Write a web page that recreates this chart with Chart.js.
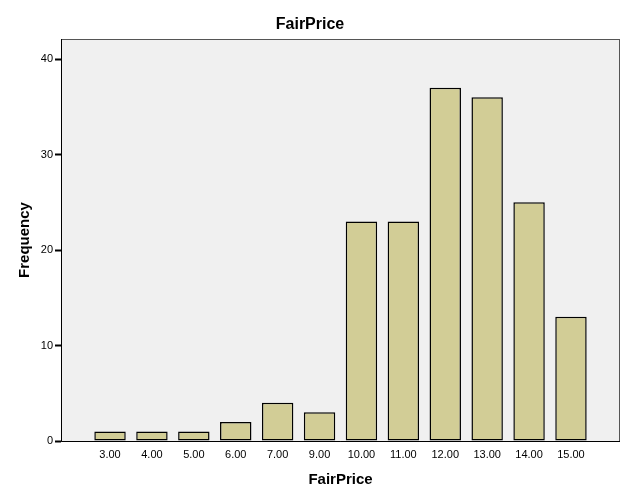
<!DOCTYPE html>
<html>
<head>
<meta charset="utf-8">
<script src="https://cdn.jsdelivr.net/npm/chart.js@4"></script>
<style>
  html, body { margin: 0; padding: 0; background: #ffffff; }
  #wrap { width: 629px; height: 504px; }
</style>
</head>
<body>
<div id="wrap"><canvas id="chart" width="629" height="504"></canvas></div>
<script>
// Data
const priceLabels = ['3.00', '4.00', '5.00', '6.00', '7.00', '9.00', '10.00', '11.00', '12.00', '13.00', '14.00', '15.00'];
const frequencies = [1, 1, 1, 2, 4, 3, 23, 23, 37, 36, 25, 13];
const yTicks = [0, 10, 20, 30, 40];

// Plot box: grey fill behind, border on top
const plotBox = {
    id: 'plotBox',
    beforeDraw(chart) {
        const { ctx, chartArea: a } = chart;
        ctx.save();
        ctx.fillStyle = '#f0f0f0';
        ctx.fillRect(a.left, a.top, a.right - a.left, a.bottom - a.top);
        ctx.restore();
    },
    afterDraw(chart) {
        const { ctx, chartArea: a } = chart;
        ctx.save();
        ctx.strokeStyle = '#555555';
        ctx.lineWidth = 1;
        ctx.strokeRect(a.left + 0.5, a.top + 0.5, a.right - a.left - 1, a.bottom - a.top);
        ctx.strokeStyle = '#000000';
        ctx.beginPath();
        ctx.moveTo(a.left + 0.5, a.top);
        ctx.lineTo(a.left + 0.5, a.bottom + 0.5);
        ctx.lineTo(a.right, a.bottom + 0.5);
        ctx.stroke();
        ctx.restore();
    }
};

const font = "'Liberation Sans', Arial, sans-serif";

new Chart(document.getElementById('chart'), {
    type: 'bar',
    data: {
        datasets: [{
            data: frequencies.map((v, i) => ({ x: i, y: v })),
            backgroundColor: '#d2cd96',
            borderColor: '#000000',
            borderWidth: 1.5,
            borderSkipped: false,
            barPercentage: 0.75,
            categoryPercentage: 1
        }]
    },
    options: {
        responsive: false,
        animation: false,
        layout: { padding: { left: 0, right: 9, top: 0, bottom: 0 } },
        plugins: {
            legend: { display: false },
            tooltip: { enabled: false },
            title: {
                display: true,
                text: 'FairPrice',
                color: '#000000',
                font: { family: font, size: 16, weight: 'bold' },
                padding: { top: 15.4, bottom: 4.4 }
            }
        },
        scales: {
            x: {
                type: 'linear',
                offset: false,
                min: -1.17,
                max: 12.17,
                afterBuildTicks: s => { s.ticks = priceLabels.map((_, i) => ({ value: i })); },
                afterFit: s => { s.height = 63; },
                ticks: {
                    color: '#000000',
                    font: { family: font, size: 11 },
                    padding: 7,
                    maxRotation: 0,
                    autoSkip: false,
                    callback: v => priceLabels[v]
                },
                grid: { display: false, drawTicks: false },
                border: { display: false },
                title: {
                    display: true,
                    text: 'FairPrice',
                    color: '#000000',
                    font: { family: font, size: 15, weight: 'bold' },
                    padding: { top: 0, bottom: 15 }
                }
            },
            y: {
                min: 0,
                max: 42.1,
                afterBuildTicks: s => { s.ticks = yTicks.map(v => ({ value: v })); },
                afterFit: s => { s.width = 61; },
                ticks: {
                    color: '#000000',
                    font: { family: font, size: 11 },
                    padding: 2
                },
                grid: {
                    drawOnChartArea: false,
                    drawTicks: true,
                    tickLength: 6,
                    color: '#000000',
                    tickWidth: 2
                },
                border: { display: false },
                title: {
                    display: true,
                    text: 'Frequency',
                    color: '#000000',
                    font: { family: font, size: 15, weight: 'bold' },
                    padding: { top: 16, bottom: 0 }
                }
            }
        }
    },
    plugins: [plotBox]
});
</script>
</body>
</html>
